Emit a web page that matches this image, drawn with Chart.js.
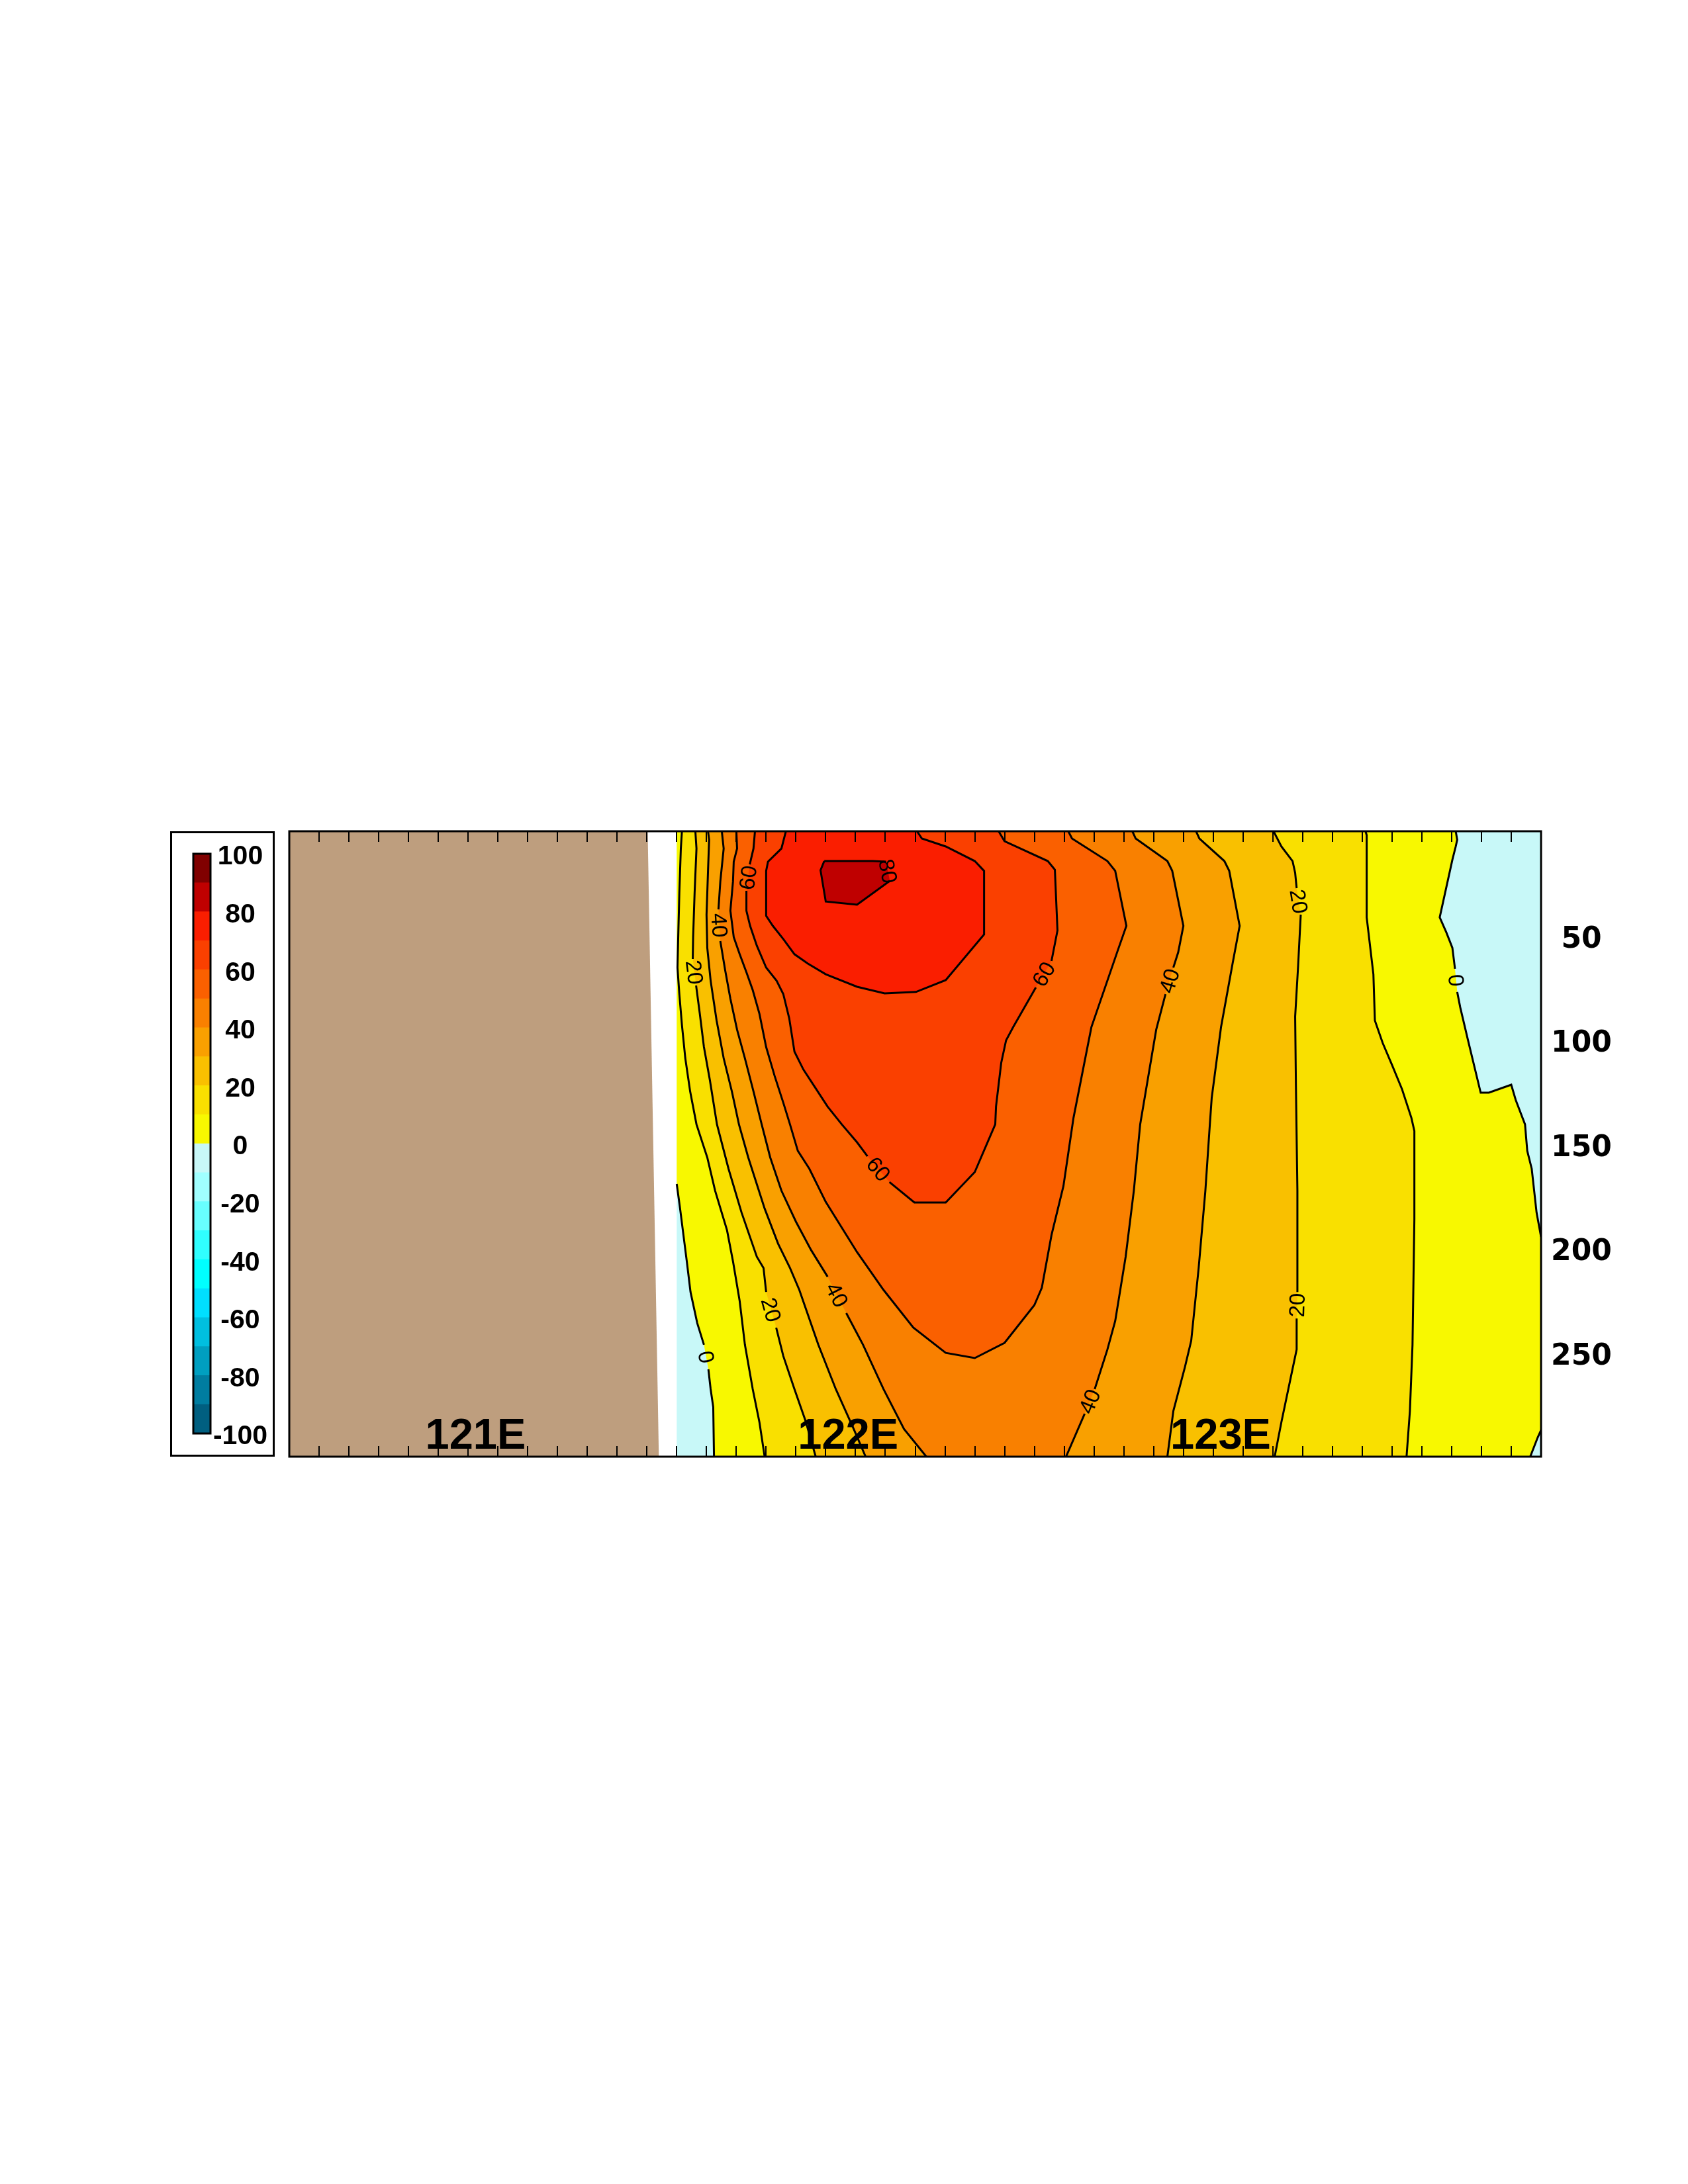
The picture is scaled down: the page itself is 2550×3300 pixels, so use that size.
<!DOCTYPE html>
<html><head><meta charset="utf-8">
<script src="https://cdn.jsdelivr.net/npm/chart.js@4.4.1/dist/chart.umd.min.js"></script>
<style>
html,body{margin:0;padding:0;background:#fff;width:2550px;height:3300px;overflow:hidden}
#main{position:absolute;left:0;top:0}
#cbar{position:absolute;left:257px;top:1256px}
</style></head><body>
<canvas id="main" width="2550" height="2300"></canvas>
<canvas id="cbar" width="158" height="945"></canvas>
<script>
// ---------------- data ----------------
const LEVELS = [-100,-90,-80,-70,-60,-50,-40,-30,-20,-10,0,10,20,30,40,50,60,70,80,90,100];
const BAND_COLORS = ['#005F80','#007DA0','#009FC0','#00BFE0','#00DFFF','#00FFFF','#30FFFF','#68FFFF','#A0FFFF','#C8F8F8',
                     '#F8F800','#F9E000','#F9C000','#F9A000','#F98000','#FA6000','#FA4000','#FA1E00','#BF0000','#800000'];
const CBAR_LABELS = [100,80,60,40,20,0,-20,-40,-60,-80,-100];
const LON_LABELS = [121,122,123];
const DEPTH_LABELS = [50,100,150,200,250];
const LON_MIN = 120.5, LON_MAX = 123.86, TICK_STEP = 0.08;
const DEPTH_MIN = 0, DEPTH_MAX = 300;
const DATA_WEST = 121.54, DATA_EAST = 123.86;
const LAND = [[120.5,0],[121.462,0],[121.492,300],[120.5,300]];

// contour lines [lon, depth]; null = gap where the contour label sits
const c0West = [[121.540,169.2],[121.549,181.0],[121.558,193.7],[121.567,206.3],[121.577,221.0],[121.595,235.9],[121.613,246.3],null,[121.625,258.1],[121.631,267.6],[121.638,276.2],[121.640,300]];
const c0East = [[123.631,0],[123.635,4.1],[123.631,7.3],[123.622,13.7],[123.588,41.3],[123.606,48.6],[123.622,55.9],[123.629,66.0],null,[123.635,77.1],[123.643,84.4],[123.664,100.3],[123.698,125.4],[123.720,125.4],[123.780,121.6],[123.792,128.9],[123.817,140.6],[123.823,153.3],[123.835,161.9],[123.848,182.9],[123.860,194.6]];
const c0Corner = [[123.831,300],[123.851,290.8],[123.860,287.3]];
const c10West = [[121.554,0],[121.551,8.3],[121.547,29.5],[121.544,50.8],[121.542,65.4],[121.547,78.1],[121.554,93.0],[121.563,108.9],[121.576,124.8],[121.593,140.6],[121.622,156.5],[121.643,172.4],[121.675,191.4],[121.691,206.3],[121.709,225.4],[121.723,246.3],[121.744,267.6],[121.762,283.5],[121.776,300]];
const c10East = [[123.389,0],[123.392,1.9],[123.392,41.3],[123.410,68.6],[123.414,90.8],[123.435,101.6],[123.460,112.1],[123.487,123.8],[123.512,137.5],[123.520,143.8],[123.520,186.0],[123.515,246.3],[123.508,278.1],[123.499,300]];
const c20West = [[121.590,0],[121.593,8.3],[121.588,29.5],[121.584,50.8],[121.583,61.3],null,[121.592,74.0],[121.602,87.6],[121.613,103.5],[121.629,119.4],[121.648,140.6],[121.679,161.9],[121.714,182.9],[121.755,204.1],[121.773,209.5],[121.780,221.0],null,[121.807,238.1],[121.826,251.7],[121.856,267.6],[121.887,283.5],[121.913,300]];
const c20East = [[123.142,0],[123.163,7.3],[123.193,14.3],[123.200,20.0],[123.204,27.3],null,[123.215,40.0],[123.208,64.4],[123.200,88.9],[123.202,121.6],[123.206,172.4],[123.206,221.0],null,[123.204,233.7],[123.204,248.6],[123.188,262.2],[123.163,283.5],[123.145,300]];
const c30West = [[121.624,0],[121.627,4.1],[121.624,19.0],[121.620,40.0],[121.622,55.9],[121.631,71.7],[121.647,90.8],[121.666,108.9],[121.688,124.8],[121.707,140.6],[121.732,156.5],[121.776,181.0],[121.812,197.8],[121.844,209.5],[121.869,220.0],[121.920,246.3],[121.967,267.6],[122.015,286.7],[122.047,300]];
const c30East = [[122.934,0],[122.943,3.5],[123.010,14.3],[123.023,19.0],[123.051,45.4],[123.032,63.5],[123.001,94.0],[122.976,127.9],[122.971,140.6],[122.959,172.4],[122.941,209.5],[122.921,244.4],[122.904,257.1],[122.873,278.1],[122.857,300]];
const c40West = [[121.661,0],[121.666,8.3],[121.657,24.1],[121.652,37.5],null,[121.657,52.7],[121.670,66.7],[121.684,80.3],[121.702,95.2],[121.723,108.9],[121.746,124.8],[121.768,140.6],[121.791,156.5],[121.821,172.4],[121.860,187.3],[121.901,201.0],[121.945,213.7],null,[121.995,231.1],[122.040,246.3],[122.095,267.6],[122.150,286.7],[122.210,300]];
const c40East = [[122.763,0],[122.772,3.5],[122.857,14.3],[122.870,19.0],[122.900,45.4],[122.886,58.1],[122.873,65.4],null,[122.852,78.1],[122.827,95.2],[122.802,121.6],[122.784,140.6],[122.767,172.4],[122.745,204.1],[122.717,234.9],[122.696,248.6],[122.662,267.6],null,[122.635,279.4],[122.585,300]];
const c50 = [[121.700,0],[121.702,8.3],[121.693,14.6],[121.691,24.1],[121.684,38.1],[121.693,50.8],[121.709,59.0],[121.727,67.6],[121.744,76.2],[121.762,87.6],[121.780,103.5],[121.803,117.5],[121.826,130.2],[121.844,140.6],[121.865,153.3],[121.896,161.9],[121.940,177.8],[122.024,201.9],[122.095,220.0],[122.175,238.1],[122.262,250.2],[122.340,252.7],[122.420,245.4],[122.500,227.3],[122.520,219.0],[122.546,193.7],[122.578,170.2],[122.605,137.5],[122.653,94.0],[122.724,57.1],[122.747,45.4],[122.717,19.0],[122.696,14.3],[122.601,3.5],[122.591,0]];
const c60 = [[121.750,0],[121.746,8.3],[121.736,15.9],null,[121.727,28.6],[121.727,38.1],[121.737,45.4],[121.755,54.9],[121.780,65.4],[121.808,71.7],[121.826,78.1],[121.842,89.8],[121.856,105.7],[121.880,114.3],[121.910,122.5],[121.945,132.1],[121.983,140.6],[122.024,149.2],[122.052,155.9],null,[122.111,168.3],[122.178,178.1],[122.262,178.1],[122.340,163.5],[122.395,140.6],[122.397,132.1],[122.411,111.1],[122.424,100.3],[122.443,94.0],[122.504,74.9],null,[122.546,62.2],[122.562,47.6],[122.555,18.4],[122.536,14.3],[122.420,4.8],[122.404,0]];
const c70 = [[121.833,0],[121.821,8.3],[121.785,14.6],[121.780,19.0],[121.780,40.6],[121.798,45.4],[121.826,51.7],[121.856,59.0],[121.892,63.5],[121.940,68.6],[122.024,74.6],[122.098,77.8],[122.182,77.1],[122.262,71.4],[122.365,49.5],[122.365,19.0],[122.340,14.3],[122.262,7.3],[122.198,3.5],[122.185,0]];
const c80 = [[121.936,14.3],[122.066,14.3],[122.102,14.6],null,[122.112,23.8],[122.024,35.2],[121.940,33.7],[121.926,18.7],[121.936,14.3]];

// ---------------- build datasets ----------------
const clean = a => a.filter(p => p);
const toXY = a => a.map(p => p ? {x: p[0], y: p[1]} : {x: null, y: null});
const bandColor = lvl => BAND_COLORS[LEVELS.indexOf(lvl)];

const regions = [
  {lvl: -10, pts: [[DATA_WEST,DEPTH_MIN],[DATA_EAST,DEPTH_MIN],[DATA_EAST,DEPTH_MAX],[DATA_WEST,DEPTH_MAX]]},
  {lvl: 0,  pts: [[DATA_WEST,DEPTH_MIN]].concat(clean(c0West), c0Corner, clean(c0East).reverse())},
  {lvl: 10, pts: clean(c10West).concat(clean(c10East).reverse())},
  {lvl: 20, pts: clean(c20West).concat(clean(c20East).reverse())},
  {lvl: 30, pts: clean(c30West).concat(clean(c30East).reverse())},
  {lvl: 40, pts: clean(c40West).concat(clean(c40East).reverse())},
  {lvl: 50, pts: clean(c50)},
  {lvl: 60, pts: clean(c60)},
  {lvl: 70, pts: clean(c70)},
  {lvl: 80, pts: clean(c80)}
];
const contourLines = [
  {lvl:0,pts:c0West},{lvl:0,pts:c0East},{lvl:0,pts:c0Corner},
  {lvl:10,pts:c10West},{lvl:10,pts:c10East},
  {lvl:20,pts:c20West},{lvl:20,pts:c20East},
  {lvl:30,pts:c30West},{lvl:30,pts:c30East},
  {lvl:40,pts:c40West},{lvl:40,pts:c40East},
  {lvl:50,pts:c50},{lvl:60,pts:c60},{lvl:70,pts:c70},{lvl:80,pts:c80}
];

const datasets = [];
datasets.push({label:'land', data: toXY(LAND), fill:'shape', backgroundColor:'#BE9E7E',
  borderColor:'rgba(0,0,0,0)', borderWidth:1, pointRadius:0, order:200});
regions.forEach((r,i) => datasets.push({label:'fill'+r.lvl, data: toXY(r.pts), fill:'shape',
  backgroundColor: bandColor(r.lvl), borderColor:'rgba(0,0,0,0)', borderWidth:1, pointRadius:0, order:150 - i}));
contourLines.forEach(c => datasets.push({label:'c'+c.lvl, data: toXY(c.pts), fill:false, lvl:c.lvl, isContour:true,
  borderColor:'#000', borderWidth:3, pointRadius:0, spanGaps:false, order:1}));

const FONT_SANS = "'Liberation Sans', Arial, sans-serif";

const decor = {
  id:'decor',
  afterDatasetsDraw(chart){
    const ctx = chart.ctx, xs = chart.scales.x, ys = chart.scales.y, a = chart.chartArea;
    ctx.save();
    // contour labels
    ctx.fillStyle = '#000';
    ctx.font = "33px " + FONT_SANS;
    ctx.textAlign = 'center'; ctx.textBaseline = 'middle';
    chart.data.datasets.forEach(ds => {
      if (!ds.isContour) return;
      const d = ds.data;
      for (let i = 1; i < d.length - 1; i++) {
        if (d[i].x !== null) continue;
        const p1 = {x: xs.getPixelForValue(d[i-1].x), y: ys.getPixelForValue(d[i-1].y)};
        const p2 = {x: xs.getPixelForValue(d[i+1].x), y: ys.getPixelForValue(d[i+1].y)};
        let ang = Math.atan2(p2.y - p1.y, p2.x - p1.x);
        if (ang > Math.PI/2) ang -= Math.PI; else if (ang <= -Math.PI/2) ang += Math.PI;
        ctx.save();
        ctx.translate((p1.x + p2.x)/2, (p1.y + p2.y)/2);
        ctx.rotate(ang);
        ctx.fillText(String(ds.lvl), 0, 2);
        ctx.restore();
      }
    });
    // ticks top & bottom
    ctx.strokeStyle = '#000'; ctx.lineWidth = 2;
    ctx.beginPath();
    for (let k = 1; LON_MIN + k*TICK_STEP < LON_MAX - 0.01; k++) {
      const x = Math.round(xs.getPixelForValue(LON_MIN + k*TICK_STEP));
      ctx.moveTo(x, a.top); ctx.lineTo(x, a.top + 16);
      ctx.moveTo(x, a.bottom); ctx.lineTo(x, a.bottom - 16);
    }
    ctx.stroke();
    // frame
    ctx.lineWidth = 3;
    ctx.strokeRect(a.left, a.top, a.right - a.left, a.bottom - a.top);
    // longitude labels
    ctx.font = "bold 65px " + FONT_SANS;
    ctx.textAlign = 'center'; ctx.textBaseline = 'alphabetic';
    LON_LABELS.forEach(l => ctx.fillText(l + 'E', xs.getPixelForValue(l), a.bottom - 12));
    // depth labels (right)
    ctx.font = "bold 44px 'DejaVu Sans', sans-serif";
    ctx.textBaseline = 'middle';
    DEPTH_LABELS.forEach(d => ctx.fillText(String(d), a.right + 61, ys.getPixelForValue(d) + 7));
    ctx.restore();
  }
};

new Chart(document.getElementById('main'), {
  type: 'line',
  data: {datasets},
  options: {
    responsive:false, devicePixelRatio:1, animation:false,
    layout:{padding:{left:437, top:1256, right:222, bottom:99}},
    elements:{line:{tension:0}},
    scales:{
      x:{type:'linear', min:LON_MIN, max:LON_MAX, display:false},
      y:{type:'linear', min:DEPTH_MIN, max:DEPTH_MAX, reverse:true, display:false}
    },
    plugins:{legend:{display:false}, tooltip:{enabled:false}}
  },
  plugins:[decor]
});

// ---------------- colour bar ----------------
const cbarDecor = {
  id:'cbarDecor',
  afterDatasetsDraw(chart){
    const ctx = chart.ctx, ys = chart.scales.y, a = chart.chartArea;
    ctx.save();
    ctx.strokeStyle = '#000';
    ctx.lineWidth = 3;
    ctx.strokeRect(a.left, a.top, a.right - a.left, a.bottom - a.top);
    ctx.strokeRect(1.5, 1.5, chart.width - 3, chart.height - 3);
    ctx.fillStyle = '#000';
    ctx.font = "bold 41px " + FONT_SANS;
    ctx.textAlign = 'center'; ctx.textBaseline = 'middle';
    CBAR_LABELS.forEach(v => ctx.fillText(String(v), a.right + 45, ys.getPixelForValue(v) + 5));
    ctx.restore();
  }
};
new Chart(document.getElementById('cbar'), {
  type:'bar',
  data:{labels:[''], datasets: BAND_COLORS.map((c,i) => ({
    data:[[LEVELS[i], LEVELS[i+1]]], backgroundColor:c, borderWidth:0,
    grouped:false, barPercentage:1, categoryPercentage:1}))},
  options:{
    responsive:false, devicePixelRatio:1, animation:false,
    layout:{padding:{left:35, right:97, top:34, bottom:35}},
    scales:{x:{display:false}, y:{display:false, min:-100, max:100}},
    plugins:{legend:{display:false}, tooltip:{enabled:false}}
  },
  plugins:[cbarDecor]
});
</script>
</body></html>
